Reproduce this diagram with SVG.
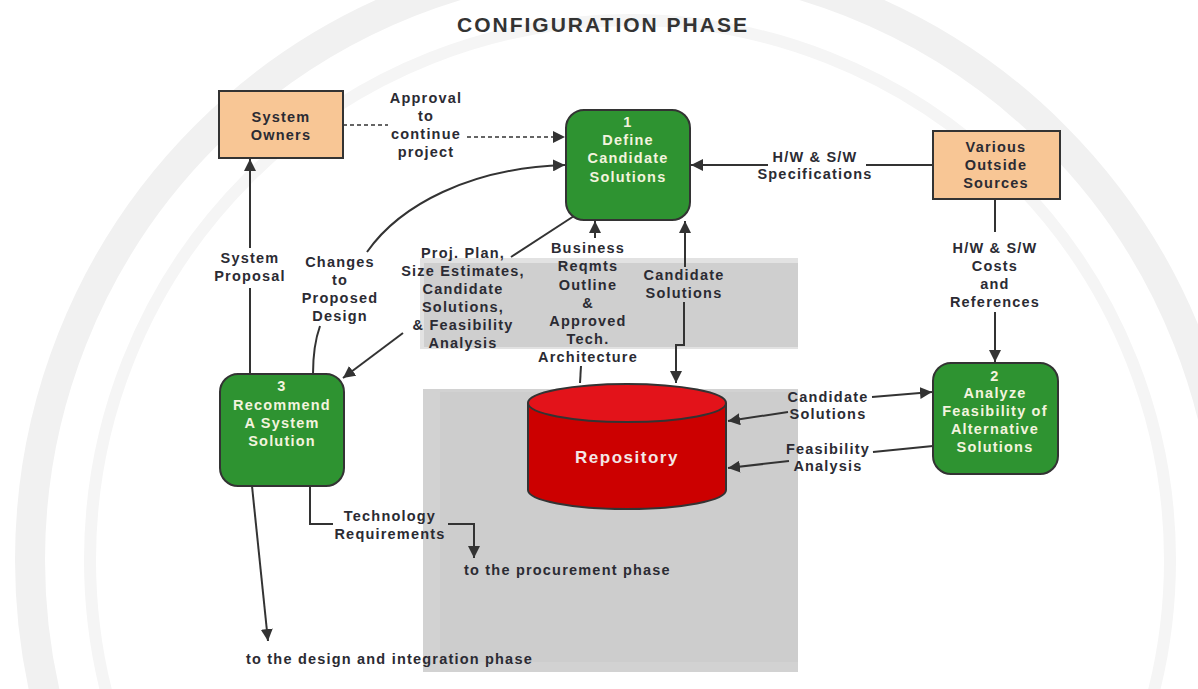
<svg xmlns="http://www.w3.org/2000/svg" width="1198" height="689" viewBox="0 0 1198 689">
  <style>
    .title { font: bold 21px "Liberation Sans", Arial, sans-serif; fill: #333; letter-spacing: 2px; text-anchor: middle; }
    .lbl { font: bold 14.5px "Liberation Sans", Arial, sans-serif; fill: #2b2b33; letter-spacing: 1.2px; text-anchor: middle; }
    .lbs { font: bold 14.5px "Liberation Sans", Arial, sans-serif; fill: #2b2b33; letter-spacing: 1.2px; }
    .nt { font: bold 14.5px "Liberation Sans", Arial, sans-serif; fill: #f3f3de; letter-spacing: 1.2px; text-anchor: middle; }
    .ext { fill: #f8c695; stroke: #333; stroke-width: 2; }
    .proc { fill: #2e9331; stroke: #333; stroke-width: 2; }
    .ln { fill: none; stroke: #333; stroke-width: 2; }
    .dash { fill: none; stroke: #333; stroke-width: 1.5; stroke-dasharray: 4 3; }
  </style>
  <defs>
    <marker id="arrB" viewBox="0 0 10 10" refX="10" refY="5" markerWidth="12" markerHeight="12" orient="auto-start-reverse" markerUnits="userSpaceOnUse">
      <path d="M0,0 L10,5 L0,10 z" fill="#333"/>
    </marker>
  </defs>

  <!-- page background -->
  <rect width="1198" height="689" fill="#ffffff"/>
  <g id="backdrop" fill="none">
    <circle cx="630" cy="560" r="600" stroke="#f1f1f1" stroke-width="30"/>
    <circle cx="630" cy="560" r="540" stroke="#f5f5f5" stroke-width="12"/>
  </g>
  <g id="panels">
    <rect x="420" y="258" width="378" height="91" fill="#e2e2e2"/>
    <rect x="424" y="263" width="374" height="84" fill="#cfcfcf"/>
    <rect x="423" y="389" width="375" height="283" fill="#d2d2d2"/>
    <rect x="440" y="392" width="358" height="270" fill="#cdcdcd"/>
  </g>

  <text class="title" x="603" y="32">CONFIGURATION PHASE</text>

  <!-- connectors -->
  <g id="connectors">
    <!-- approval to continue project -->
    <path class="dash" d="M343,125 H388"/>
    <path class="dash" d="M467,137 H565" marker-end="url(#arrB)"/>
    <!-- changes to proposed design -->
    <path class="ln" d="M313,374 C313,355 315,340 320,326"/>
    <path class="ln" d="M367,252 C400,205 470,168 565,165" marker-end="url(#arrB)"/>
    <!-- proj. plan etc. -->
    <path class="ln" d="M574,216 L511,257"/>
    <path class="ln" d="M403,333 L343,378" marker-end="url(#arrB)"/>
    <!-- business reqmts -->
    <path class="ln" d="M580,383 L581,366"/>
    <path class="ln" d="M595,238 L595,221" marker-end="url(#arrB)"/>
    <!-- candidate solutions, define <-> repository -->
    <path class="ln" d="M685,267 V221" marker-end="url(#arrB)"/>
    <path class="ln" d="M684,302 V345 H676 V383" marker-end="url(#arrB)"/>
    <!-- h/w & s/w specifications -->
    <path class="ln" d="M933,165 H866"/>
    <path class="ln" d="M768,165 H691" marker-end="url(#arrB)"/>
    <!-- h/w & s/w costs and references -->
    <path class="ln" d="M995,199 V232"/>
    <path class="ln" d="M995,312 V362" marker-end="url(#arrB)"/>
    <!-- candidate solutions, repository <-> analyze -->
    <path class="ln" d="M872,397 L932,392" marker-end="url(#arrB)"/>
    <path class="ln" d="M788,412 L728,421" marker-end="url(#arrB)"/>
    <!-- feasibility analysis -->
    <path class="ln" d="M933,446 L873,452"/>
    <path class="ln" d="M789,461 L728,468" marker-end="url(#arrB)"/>
    <!-- system proposal -->
    <path class="ln" d="M250,374 V288"/>
    <path class="ln" d="M250,248 V159" marker-end="url(#arrB)"/>
    <!-- to the design and integration phase -->
    <path class="ln" d="M252,486 L268,641" marker-end="url(#arrB)"/>
    <!-- technology requirements -->
    <path class="ln" d="M310,486 V524 H333"/>
    <path class="ln" d="M448,524 H474 V558" marker-end="url(#arrB)"/>
  </g>

  <!-- connector labels -->
  <g id="labels">
    <text class="lbl"><tspan x="426" y="103">Approval</tspan><tspan x="426" y="121">to</tspan><tspan x="426" y="139">continue</tspan><tspan x="426" y="157">project</tspan></text>
    <text class="lbl"><tspan x="815" y="162">H/W &amp; S/W</tspan><tspan x="815" y="179">Specifications</tspan></text>
    <text class="lbl"><tspan x="995" y="253">H/W &amp; S/W</tspan><tspan x="995" y="271">Costs</tspan><tspan x="995" y="289">and</tspan><tspan x="995" y="307">References</tspan></text>
    <text class="lbl"><tspan x="250" y="263">System</tspan><tspan x="250" y="281">Proposal</tspan></text>
    <text class="lbl"><tspan x="340" y="267">Changes</tspan><tspan x="340" y="285">to</tspan><tspan x="340" y="303">Proposed</tspan><tspan x="340" y="321">Design</tspan></text>
    <text class="lbl"><tspan x="463" y="258">Proj. Plan,</tspan><tspan x="463" y="276">Size Estimates,</tspan><tspan x="463" y="294">Candidate</tspan><tspan x="463" y="312">Solutions,</tspan><tspan x="463" y="330">&amp; Feasibility</tspan><tspan x="463" y="348">Analysis</tspan></text>
    <text class="lbl"><tspan x="588" y="253">Business</tspan><tspan x="588" y="271">Reqmts</tspan><tspan x="588" y="290">Outline</tspan><tspan x="588" y="308">&amp;</tspan><tspan x="588" y="326">Approved</tspan><tspan x="588" y="344">Tech.</tspan><tspan x="588" y="362">Architecture</tspan></text>
    <text class="lbl"><tspan x="684" y="280">Candidate</tspan><tspan x="684" y="298">Solutions</tspan></text>
    <text class="lbl"><tspan x="828" y="402">Candidate</tspan><tspan x="828" y="419">Solutions</tspan></text>
    <text class="lbl"><tspan x="828" y="454">Feasibility</tspan><tspan x="828" y="471">Analysis</tspan></text>
    <text class="lbl"><tspan x="390" y="521">Technology</tspan><tspan x="390" y="539">Requirements</tspan></text>
    <text class="lbs" x="464" y="575">to the procurement phase</text>
    <text class="lbs" x="246" y="664">to the design and integration phase</text>
  </g>

  <!-- external entities -->
  <g id="system-owners">
    <rect class="ext" x="219" y="91" width="124" height="67"/>
    <text class="lbl"><tspan x="281" y="122">System</tspan><tspan x="281" y="140">Owners</tspan></text>
  </g>
  <g id="outside-sources">
    <rect class="ext" x="933" y="131" width="127" height="68"/>
    <text class="lbl"><tspan x="996" y="152">Various</tspan><tspan x="996" y="170">Outside</tspan><tspan x="996" y="188">Sources</tspan></text>
  </g>

  <!-- processes -->
  <g id="define-candidate-solutions">
    <rect class="proc" x="566" y="110" width="124" height="110" rx="18"/>
    <text class="nt"><tspan x="628" y="127">1</tspan><tspan x="628" y="145">Define</tspan><tspan x="628" y="163">Candidate</tspan><tspan x="628" y="182">Solutions</tspan></text>
  </g>
  <g id="analyze-feasibility">
    <rect class="proc" x="933" y="363" width="125" height="111" rx="18"/>
    <text class="nt"><tspan x="995" y="381">2</tspan><tspan x="995" y="398">Analyze</tspan><tspan x="995" y="416">Feasibility of</tspan><tspan x="995" y="434">Alternative</tspan><tspan x="995" y="452">Solutions</tspan></text>
  </g>
  <g id="recommend-solution">
    <rect class="proc" x="220" y="374" width="124" height="112" rx="18"/>
    <text class="nt"><tspan x="282" y="391">3</tspan><tspan x="282" y="410">Recommend</tspan><tspan x="282" y="428">A System</tspan><tspan x="282" y="446">Solution</tspan></text>
  </g>

  <!-- data store -->
  <g id="repository">
    <path d="M528,403 V490 A99,19 0 0 0 726,490 V403" fill="#cc0000" stroke="#333" stroke-width="2"/>
    <ellipse cx="627" cy="403" rx="99" ry="19" fill="#e3131a" stroke="#333" stroke-width="2"/>
    <text x="627" y="463" text-anchor="middle" font-family="Liberation Sans, Arial, sans-serif" font-weight="bold" font-size="17" letter-spacing="1.5" fill="#f3e6e6">Repository</text>
  </g>
</svg>
